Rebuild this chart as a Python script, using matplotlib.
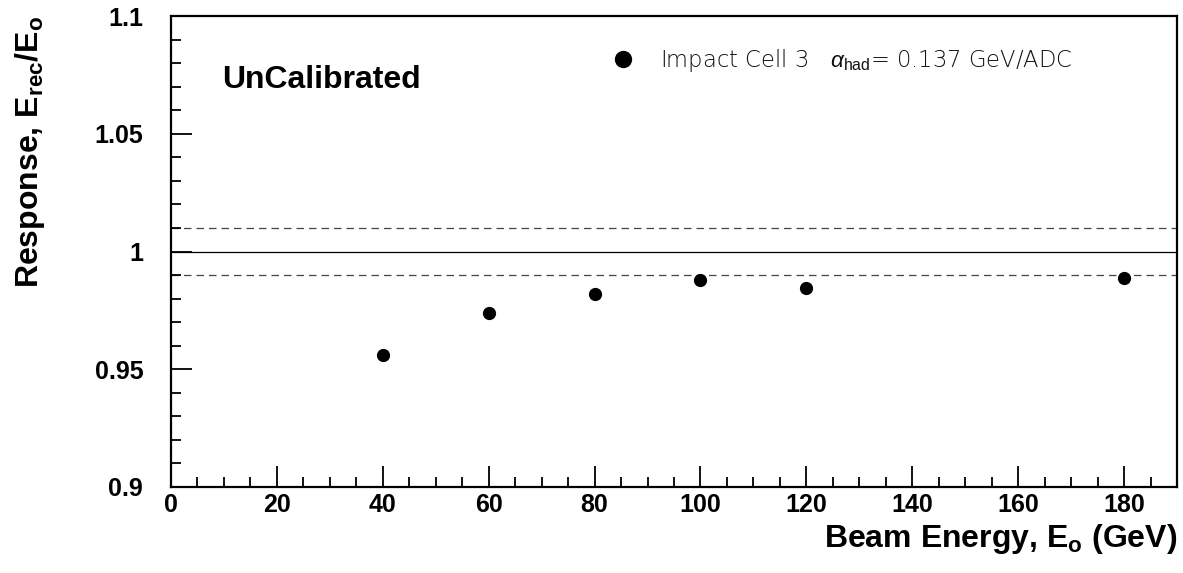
import matplotlib
matplotlib.use("Agg")
import matplotlib.pyplot as plt
from matplotlib.ticker import MultipleLocator

plt.rcParams['font.family'] = ['Liberation Sans', 'DejaVu Sans']
plt.rcParams['mathtext.fontset'] = 'custom'
plt.rcParams['mathtext.rm'] = 'Liberation Sans'
plt.rcParams['mathtext.bf'] = 'Liberation Sans:bold'
plt.rcParams['mathtext.it'] = 'Liberation Sans:italic'

# Response vs. beam energy, impact cell 3
beam_energy = [40, 60, 80, 100, 120, 180]
response = [0.956, 0.974, 0.982, 0.988, 0.9845, 0.9887]
ref_level = 1.0
band = [0.99, 1.01]
legend_label = r'Impact Cell 3   $\alpha_{\mathrm{had}}$= 0.137 GeV/ADC'

fig = plt.figure(figsize=(11.83, 5.73), dpi=100)
ax = fig.add_axes([171 / 1183, 86 / 573, 1006 / 1183, 471 / 573])

ax.set_xlim(0, 190)
ax.set_ylim(0.9, 1.1)

# reference line and +-1% band
ax.axhline(ref_level, color='black', lw=0.9, zorder=1)
for b in band:
    ax.axhline(b, color='#444444', lw=0.9, ls=(0, (6, 4)), zorder=1)

ax.plot(beam_energy, response, 'o', color='black', ms=8.5, ls='none',
        label=legend_label, zorder=3)

leg = ax.legend(loc='center left', bbox_to_anchor=(0.416, 0.905), frameon=False,
                markerscale=1.35, handlelength=1.2, handletextpad=1.0,
                prop={'family': 'DejaVu Sans', 'weight': 'light', 'size': 16.3})
for t in leg.get_texts():
    t.set_color('#111111')

ax.text(0.051, 0.847, 'UnCalibrated', transform=ax.transAxes, fontsize=23,
        fontweight='bold', va='baseline', ha='left')

for side in ['left', 'bottom', 'top', 'right']:
    ax.spines[side].set_linewidth(1.6)

ax.xaxis.set_major_locator(MultipleLocator(20))
ax.xaxis.set_minor_locator(MultipleLocator(5))
ax.yaxis.set_major_locator(MultipleLocator(0.05))
ax.yaxis.set_minor_locator(MultipleLocator(0.01))
ax.yaxis.set_major_formatter(matplotlib.ticker.FuncFormatter(lambda v, p: f'{v:g}'))

ax.tick_params(which='both', direction='in', top=False, right=False, width=1.3)
ax.tick_params(which='major', length=15)
ax.tick_params(which='minor', length=7.5)
ax.tick_params(axis='x', which='major', labelsize=18, pad=4)
ax.tick_params(axis='y', which='major', labelsize=18, pad=20)
for lbl in ax.get_xticklabels() + ax.get_yticklabels():
    lbl.set_fontweight('bold')

ax.set_xlabel(r'Beam Energy, E$_{\mathbf{o}}$ (GeV)', fontsize=23,
              fontweight='bold', loc='right')
ax.xaxis.set_label_coords(1.0, -0.11)
ax.xaxis.label.set_va('center')
ax.set_ylabel(r'Response, E$_{\mathbf{rec}}$/E$_{\mathbf{o}}$', fontsize=23,
              fontweight='bold', loc='top')
ax.yaxis.set_label_coords(-0.14, 1.0)
ax.yaxis.label.set_va('center')

fig.savefig('out.png', dpi=100)
